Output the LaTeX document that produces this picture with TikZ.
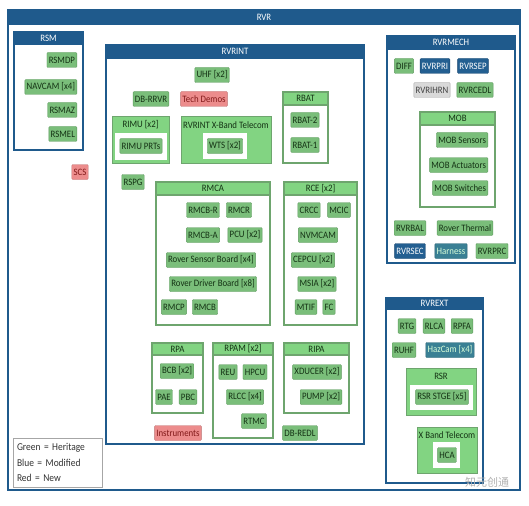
\documentclass[tikz,border=0pt]{standalone}
\usepackage{fontspec}
\setmainfont{Carlito}[FakeStretch=0.9]
\newfontfamily\cjkfont{Noto Sans CJK SC}
\usetikzlibrary{positioning}
\definecolor{rvrblue}{RGB}{31,90,140}
\definecolor{boxgreen}{RGB}{110,165,110}
\definecolor{headgreen}{RGB}{130,212,130}
\definecolor{itemgreen}{RGB}{122,190,122}
\definecolor{itemedge}{RGB}{95,155,95}
\definecolor{textgreen}{RGB}{20,50,20}
\definecolor{modblue}{RGB}{35,95,145}
\definecolor{harnessteal}{RGB}{58,128,148}
\definecolor{newred}{RGB}{236,140,140}
\definecolor{newtext}{RGB}{130,25,25}

\begin{document}
\begin{tikzpicture}[x=1pt, y=-1pt, font=\fontsize{9.8}{10}\selectfont,
    box/.style={anchor=north west, inner sep=0pt, outer sep=0pt},
    bluebox/.style={box, draw=rvrblue, line width=2pt, fill=white},
    bluehead/.style={anchor=north, inner sep=0pt, outer sep=0pt, fill=rvrblue, draw=rvrblue, line width=2pt, text=white, minimum height=12},
    greenbox/.style={box, draw=boxgreen, line width=1.2pt, fill=white},
    greenhead/.style={anchor=north, inner sep=0pt, outer sep=0pt, fill=headgreen, draw=boxgreen, line width=1.2pt, text=textgreen, minimum height=12},
    greenfull/.style={box, draw=boxgreen, line width=1pt, fill=headgreen},
    hole/.style={box, fill=white},
    label/.style={inner sep=0pt, text=textgreen},
    item/.style={draw=itemedge, fill=itemgreen, text=textgreen, inner sep=1.8pt, minimum height=15, rounded corners=1pt},
    moditem/.style={item, draw=rvrblue!80!black, fill=modblue, text=white},
    tealitem/.style={item, draw=harnessteal!80!black, fill=harnessteal, text=green!15},
    grayitem/.style={item, draw=gray!70, fill=gray!30, text=black!75},
    newitem/.style={item, draw=newred!80!black, fill=newred, text=newtext}]
  \useasboundingbox (0,0) rectangle (529,505);

  % RVR
  \node[bluebox, line width=2.5pt, minimum width=512, minimum height=480] (rvr) at (8,10) {};
  \node[bluehead, line width=2.5pt, minimum width=512, minimum height=14] (rvrhead) at (rvr.north) {RVR};

  % RSM
  \node[bluebox, minimum width=69, minimum height=118] (rsm) at (14,32) {};
  \node[bluehead, minimum width=69] (rsmhead) at (rsm.north) {RSM};
  \node[item, anchor=east] (rsmdp) at (77,60) {RSMDP};
  \node[item, anchor=east] (navcam) at (77,87) {NAVCAM [x4]};
  \node[item, anchor=east] (rsmaz) at (77,110) {RSMAZ};
  \node[item, anchor=east] (rsmel) at (77,134) {RSMEL};
  \node[newitem] (scs) at (80,172) {SCS};

  % RVRINT
  \node[bluebox, minimum width=258, minimum height=399] (rvrint) at (106,45) {};
  \node[bluehead, minimum width=258, minimum height=13] (rvrinthead) at (rvrint.north) {RVRINT};
  \node[item] (uhf) at (212,75) {UHF [x2]};
  \node[item] (dbrrvr) at (151,99) {DB-RRVR};
  \node[newitem] (techdemos) at (204,99) {Tech Demos};

  \node[greenbox, minimum width=45, minimum height=71] (rbat) at (283,92) {};
  \node[greenhead, minimum width=45, minimum height=13] (rbathead) at (rbat.north) {RBAT};
  \node[item] (rbat2) at (305,120) {RBAT-2};
  \node[item] (rbat1) at (305,145) {RBAT-1};

  \node[greenfull, minimum width=57, minimum height=46] (rimu) at (112,117) {};
  \node[label] (rimulabel) at (140.5,125) {RIMU [x2]};
  \node[hole, minimum width=52, minimum height=27] (rimuhole) at (115,133) {};
  \node[item] (rimuprts) at (141,146) {RIMU PRTs};

  \node[greenfull, minimum width=90, minimum height=46] (xband) at (181,117) {};
  \node[label] (xbandlabel) at (226,125) {RVRINT X-Band Telecom};
  \node[hole, minimum width=44, minimum height=26] (xbandhole) at (203,133) {};
  \node[item] (wts) at (225,146) {WTS [x2]};

  \node[item] (rspg) at (133,182) {RSPG};

  \node[greenbox, minimum width=114, minimum height=143] (rmca) at (156,182) {};
  \node[greenhead, minimum width=114, minimum height=13] (rmcahead) at (rmca.north) {RMCA};
  \node[item] (rmcbr) at (203,210) {RMCB-R};
  \node[item] (rmcr) at (239,210) {RMCR};
  \node[item] (rmcba) at (203,235) {RMCB-A};
  \node[item] (pcu) at (245,235) {PCU [x2]};
  \node[item] (sensorboard) at (211,260) {Rover Sensor Board [x4]};
  \node[item] (driverboard) at (213,284) {Rover Driver Board [x8]};
  \node[item] (rmcp) at (174,307) {RMCP};
  \node[item] (rmcb) at (205,307) {RMCB};

  \node[greenbox, minimum width=73, minimum height=143] (rce) at (284,182) {};
  \node[greenhead, minimum width=73, minimum height=13] (rcehead) at (rce.north) {RCE [x2]};
  \node[item] (crcc) at (309,210) {CRCC};
  \node[item] (mcic) at (339,210) {MCIC};
  \node[item] (nvmcam) at (318,235) {NVMCAM};
  \node[item] (cepcu) at (313,260) {CEPCU [x2]};
  \node[item] (msia) at (317,284) {MSIA [x2]};
  \node[item] (mtif) at (306,307) {MTIF};
  \node[item] (fc) at (329,307) {FC};

  \node[greenbox, minimum width=51, minimum height=70] (rpa) at (152,343) {};
  \node[greenhead, minimum width=51] (rpahead) at (rpa.north) {RPA};
  \node[item] (bcb) at (177,371) {BCB [x2]};
  \node[item] (pae) at (164,397) {PAE};
  \node[item] (pbc) at (188,397) {PBC};

  \node[greenbox, minimum width=60, minimum height=95] (rpam) at (213,343) {};
  \node[greenhead, minimum width=60] (rpamhead) at (rpam.north) {RPAM [x2]};
  \node[item] (reu) at (228,372) {REU};
  \node[item] (hpcu) at (255,372) {HPCU};
  \node[item] (rlcc) at (245,397) {RLCC [x4]};
  \node[item] (rtmc) at (254,421) {RTMC};

  \node[greenbox, minimum width=65, minimum height=70] (ripa) at (284,343) {};
  \node[greenhead, minimum width=65] (ripahead) at (ripa.north) {RIPA};
  \node[item] (xducer) at (317,372) {XDUCER [x2]};
  \node[item] (pump) at (321,397) {PUMP [x2]};

  \node[newitem] (instruments) at (178,433) {Instruments};
  \node[item] (dbredl) at (300,433) {DB-REDL};

  % RVRMECH
  \node[bluebox, minimum width=128, minimum height=227] (rvrmech) at (387,36) {};
  \node[bluehead, minimum width=128, minimum height=13] (rvrmechhead) at (rvrmech.north) {RVRMECH};
  \node[item] (diff) at (404,66) {DIFF};
  \node[moditem] (rvrpri) at (435,66) {RVRPRI};
  \node[moditem] (rvrsep) at (473,66) {RVRSEP};
  \node[grayitem] (rvrihrn) at (432,90) {RVRIHRN};
  \node[item] (rvrcedl) at (475,90) {RVRCEDL};

  \node[greenbox, minimum width=75, minimum height=95] (mob) at (420,112) {};
  \node[greenhead, minimum width=75, minimum height=13] (mobhead) at (mob.north) {MOB};
  \node[item, anchor=east] (mobsensors) at (488,140) {MOB Sensors};
  \node[item, anchor=east] (mobactuators) at (488,165) {MOB Actuators};
  \node[item, anchor=east] (mobswitches) at (488,188) {MOB Switches};

  \node[item] (rvrbal) at (410,228) {RVRBAL};
  \node[item] (thermal) at (465,228) {Rover Thermal};
  \node[moditem] (rvrsec) at (410,251) {RVRSEC};
  \node[tealitem] (harness) at (451,251) {Harness};
  \node[item] (rvrprc) at (492,251) {RVRPRC};

  % RVREXT
  \node[bluebox, minimum width=97, minimum height=185] (rvrext) at (386,298) {};
  \node[bluehead, minimum width=97, minimum height=11] (rvrexthead) at (rvrext.north) {RVREXT};
  \node[item] (rtg) at (407,326) {RTG};
  \node[item] (rlca) at (434,326) {RLCA};
  \node[item] (rpfa) at (462,326) {RPFA};
  \node[item] (ruhf) at (404,350) {RUHF};
  \node[tealitem] (hazcam) at (450,350) {HazCam [x4]};

  \node[greenfull, minimum width=70, minimum height=47] (rsr) at (406,368) {};
  \node[label] (rsrlabel) at (441,376) {RSR};
  \node[hole, minimum width=63, minimum height=25] (rsrhole) at (410,385) {};
  \node[item] (rsrstge) at (442,397) {RSR STGE [x5]};

  \node[greenfull, minimum width=60, minimum height=46] (xbt) at (417,427) {};
  \node[label] (xbtlabel) at (447,435) {X Band Telecom};
  \node[hole, minimum width=27, minimum height=26] (xbthole) at (433,442) {};
  \node[item] (hca) at (447,455) {HCA};

  % legend
  \node[box, draw=gray!70, fill=white, inner sep=4pt, text width=81, minimum height=49, align=left, font=\fontsize{10.5}{15.5}\selectfont, text=black!80] (legend) at (13,438) {Green = Heritage\\Blue = Modified\\Red = New};

  \node[text=gray!60, font=\cjkfont\fontsize{11}{11}\selectfont] (mark) at (487,482) {知元创通};
\end{tikzpicture}
\end{document}
